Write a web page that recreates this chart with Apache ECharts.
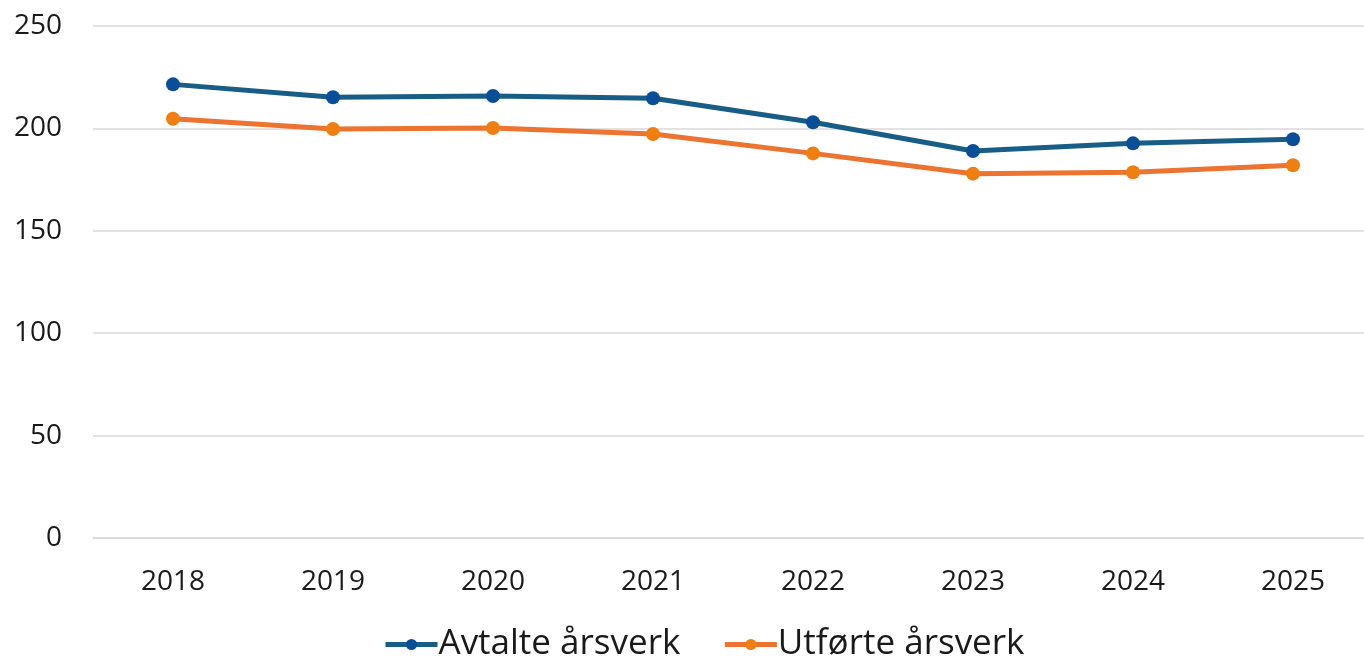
<!DOCTYPE html>
<html>
<head>
<meta charset="utf-8">
<script src="https://cdn.jsdelivr.net/npm/echarts@6/dist/echarts.min.js"></script>
<style>
  html, body { margin: 0; padding: 0; background: #fff; overflow: hidden; }
  #chart { width: 1373px; height: 660px; }
</style>
</head>
<body>
<div id="chart"></div>
<script>
  // år og verdier lest av figuren
  var years = ['2018', '2019', '2020', '2021', '2022', '2023', '2024', '2025']
  var avtalte = [221.5, 215.2, 215.8, 214.7, 203.0, 189.0, 192.7, 194.7]
  var utforte = [204.7, 199.7, 200.2, 197.3, 187.8, 177.9, 178.6, 182.0]
  var yTicks = [0, 50, 100, 150, 200, 250]

  var chart = echarts.init(document.getElementById('chart'))
  var font = '"Open Sans", "Noto Sans", sans-serif'

  var option = {
    animation: false,
    textStyle: { fontFamily: font },
    grid: { left: 93, right: 0, top: 26, bottom: 122 },
    legend: {
      bottom: -7,
      left: 378,
      itemWidth: 52,
      itemHeight: 14,
      itemGap: 42,
      textStyle: { fontSize: 35, color: '#1a1a1a', fontFamily: font, padding: [0, 0, 0, -4] },
      data: [
        { name: 'Avtalte årsverk', lineStyle: { width: 5, color: '#185d86' }, itemStyle: { color: '#0a4f96' } },
        { name: 'Utførte årsverk', lineStyle: { width: 5, color: '#ec7330' }, itemStyle: { color: '#f07f12' } }
      ]
    },
    xAxis: {
      type: 'category',
      data: years,
      boundaryGap: true,
      axisLine: { show: true, lineStyle: { color: '#d9d9d9', width: 1.5 } },
      axisTick: { show: false },
      axisLabel: { fontSize: 28, color: '#1a1a1a', margin: 30 }
    },
    yAxis: {
      type: 'value',
      min: yTicks[0],
      max: yTicks[yTicks.length - 1],
      interval: 50,
      axisLine: { show: false },
      axisTick: { show: false },
      axisLabel: { fontSize: 28, color: '#1a1a1a', margin: 31 },
      splitLine: { lineStyle: { color: '#d9d9d9', width: 1.5 } }
    },
    series: [
      {
        name: 'Avtalte årsverk',
        type: 'line',
        data: avtalte,
        symbol: 'circle',
        symbolSize: 14,
        lineStyle: { color: '#185d86', width: 5 },
        itemStyle: { color: '#0a4f96' }
      },
      {
        name: 'Utførte årsverk',
        type: 'line',
        data: utforte,
        symbol: 'circle',
        symbolSize: 14,
        lineStyle: { color: '#ec7330', width: 5 },
        itemStyle: { color: '#f07f12' }
      }
    ]
  }
  chart.setOption(option)
</script>
</body>
</html>
